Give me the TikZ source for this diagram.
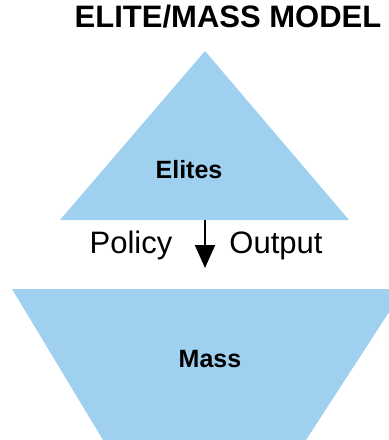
\documentclass[tikz,border=0pt]{standalone}
\usepackage{fontspec}
\setmainfont{Liberation Sans}
\usetikzlibrary{arrows.meta}
\definecolor{layerblue}{RGB}{160,208,240}
\begin{document}
\begin{tikzpicture}[x=1pt,y=-1pt,
  layer/.style={fill=layerblue,draw=none},
  layerlabel/.style={anchor=base,inner sep=0pt,font=\bfseries\fontsize{25}{25}\selectfont},
  flowlabel/.style={anchor=base,inner sep=0pt,font=\fontsize{31}{31}\selectfont},
  flow/.style={line width=2pt,-{Triangle[width=20pt,length=23pt]}}]
\useasboundingbox (0,0) rectangle (389,440);
\begin{scope}
\clip (0,0) rectangle (389,440);
% upper layer: the elites
\fill[layer] (205,51) -- (349,220) -- (60,220) -- cycle;
% lower layer: the mass
\fill[layer] (12,289) -- (404,289) -- (306,440) -- (103,440) -- cycle;
\end{scope}
\node[anchor=base,inner sep=0pt,font=\bfseries\fontsize{31}{31}\selectfont] (title) at (228,27) {ELITE/MASS MODEL};
\node[layerlabel] (elites) at (189,178) {Elites};
\node[layerlabel] (mass) at (210,367) {Mass};
\coordinate (from) at (205,220);
\coordinate (to) at (205,268);
\draw[flow] (from) -- (to);
\node[flowlabel] (policy) at (131,253) {Policy};
\node[flowlabel] (output) at (276,253) {Output};
\end{tikzpicture}
\end{document}
